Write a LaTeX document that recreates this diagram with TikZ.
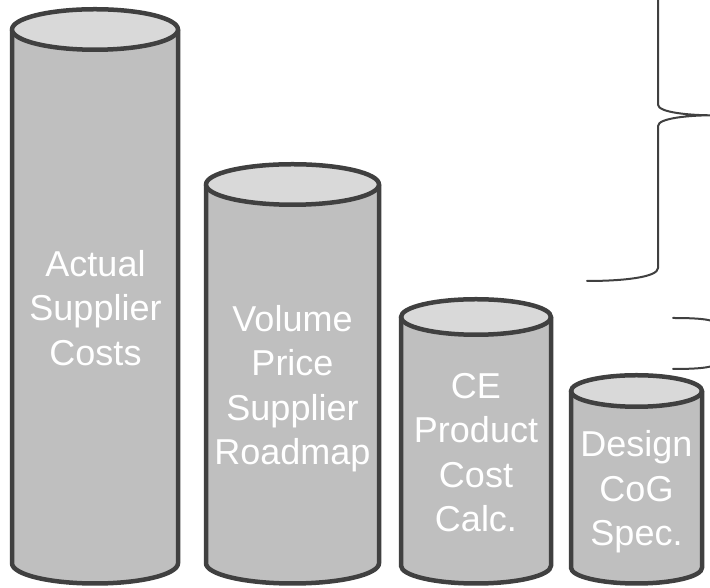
\documentclass[tikz,border=0pt]{standalone}
\usepackage{fontspec}
\setmainfont{Liberation Sans}
\definecolor{edge}{HTML}{404040}
\definecolor{body}{HTML}{BFBFBF}
\definecolor{lid}{HTML}{D9D9D9}
\tikzset{
  cyl/.style={draw=edge, line width=4.5pt, line join=round},
  brace/.style={draw=edge, line width=2pt, line cap=round},
  lbl/.style={text=white, font=\fontsize{36}{44.5}\selectfont, align=center,
              inner sep=0pt, anchor=north},
}
% #1 centre x, #2 x radius, #3 y radius, #4 y of lid centre, #5 y of base centre
\newcommand\drum[5]{%
  \fill[body] ({#1-#2},#4) -- ({#1-#2},#5)
    arc[start angle=180, end angle=360, x radius=#2, y radius=#3]
    -- ({#1+#2},#4) -- cycle;
  \draw[cyl] ({#1-#2},#4) -- ({#1-#2},#5)
    arc[start angle=180, end angle=360, x radius=#2, y radius=#3]
    -- ({#1+#2},#4);
  \draw[cyl, fill=lid] (#1,#4) ellipse[x radius=#2, y radius=#3];
}
\newcommand\lift{\rule{0pt}{28pt}}
\begin{document}
\begin{tikzpicture}[x=1pt, y=1pt]
  \useasboundingbox (0,0) rectangle (710,588);
  \clip (0,0) rectangle (710,588);

  % four cylinders, tallest on the left
  \drum{95}{83}{20.25}{558.5}{24.75}
  \drum{292.5}{86.5}{20.25}{403.5}{24.75}
  \drum{476}{75}{17.75}{271}{22.25}
  \drum{636.5}{65.5}{15.75}{197}{20.25}

  \node[lbl] (actual) at (95.5,339.8) {\lift Actual\\Supplier\\Costs};
  \node[lbl] (volume) at (292.5,284.75) {\lift Volume\\Price\\Supplier\\Roadmap};
  \node[lbl] (ce) at (476,218.15) {\lift CE\\Product\\Cost\\Calc.};
  \node[lbl] (design) at (636.5,159.4) {\lift Design\\CoG\\Spec.};

  % large brace, running past the top edge
  \coordinate (bigtip) at (712,472.7);
  \draw[brace] (587,307) .. controls (625,307) and (658,311) .. (658,320)
    -- (658,462) .. controls (658,470) and (690,472.7) .. (bigtip)
    .. controls (690,472.7) and (658,475.4) .. (658,483.4)
    -- (658,626) .. controls (658,635) and (625,638.4) .. (587,638.4);

  % small brace, running past the right edge
  \coordinate (smalltip) at (740,244.5);
  \draw[brace] (673,270) .. controls (700,270) and (718,268.5) .. (718,262)
    -- (718,252) .. controls (718,246) and (728,244.5) .. (smalltip)
    .. controls (728,244.5) and (718,243) .. (718,237)
    -- (718,227) .. controls (718,220.5) and (700,219) .. (673,219);
\end{tikzpicture}
\end{document}
